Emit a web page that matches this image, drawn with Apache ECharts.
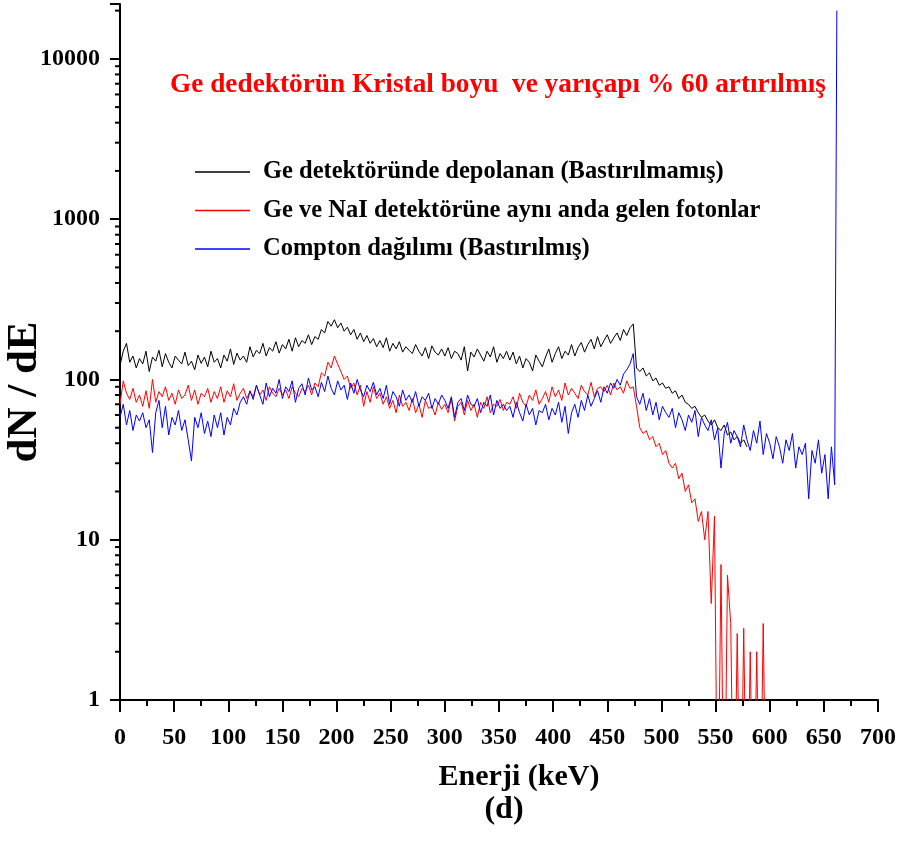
<!DOCTYPE html>
<html>
<head>
<meta charset="utf-8">
<title>dN/dE spektrum</title>
<script src="https://cdn.jsdelivr.net/npm/echarts@6/dist/echarts.min.js"></script>
<style>
  html, body { margin: 0; padding: 0; background: #fff; }
  #chart { width: 902px; height: 854px; }
</style>
</head>
<body>
<div id="chart"></div>
<script>
// kanal aralığı (keV), her dizi 0 keV'den başlar
const STEP = 3

// Ge detektöründe depolanan (Bastırılmamış) — 0..579 keV
const geDeposited = [
  122, 150, 168, 128, 140, 118, 135, 125, 150, 112,
  138, 130, 152, 120, 145, 128, 118, 140, 132, 125,
  148, 122, 130, 115, 142, 126, 138, 120, 150, 128,
  135, 118, 142, 130, 155, 124, 146, 132, 140, 128,
  160, 138, 152, 145, 168, 140, 158, 150, 172, 146,
  165, 155, 178, 150, 182, 160, 175, 168, 190, 165,
  185, 178, 205, 195, 230, 215, 236, 210, 225, 200,
  212, 190, 205, 178, 195, 172, 188, 168, 180, 160,
  175, 158, 182, 150, 168, 155, 172, 148, 160, 152,
  145, 165, 150, 140, 158, 135, 162, 148, 142, 155,
  140, 158, 135, 150, 145, 132, 160, 113, 148, 138,
  155, 142, 130, 150, 138, 160, 128, 145, 135, 150,
  132, 148, 125, 140, 118, 135, 128, 113, 142, 130,
  120, 138, 155, 128, 145, 160, 135, 150, 142, 165,
  140, 158, 170, 148, 165, 178, 155, 185, 160, 175,
  190, 168, 182, 195, 175, 205, 188, 210, 222, 118,
  112, 118, 105, 110, 98, 102, 92, 95, 88, 90,
  82, 85, 76, 80, 72, 70, 66, 68, 62, 58,
  60, 55, 52, 56, 50, 48, 52, 45, 47, 42,
  44, 40, 42, 38
]

// Ge ve NaI detektörüne aynı anda gelen fotonlar — 0..597 keV
const coincidence = [
  70, 98, 82, 75, 88, 72, 80, 68, 85, 66,
  100, 72, 84, 78, 90, 74, 82, 70, 86, 76,
  80, 92, 74, 86, 70, 82, 78, 88, 72, 84,
  76, 90, 72, 85, 78, 94, 74, 82, 88, 76,
  84, 78, 92, 80, 86, 74, 90, 82, 78, 88,
  80, 86, 76, 90, 82, 78, 88, 84, 92, 80,
  95, 90, 110, 105, 128, 118, 140, 125, 112, 100,
  105, 88, 95, 80, 92, 68, 84, 72, 90, 76,
  82, 70, 78, 66, 74, 62, 80, 68, 72, 64,
  76, 62, 70, 58, 74, 66, 68, 60, 72, 65,
  70, 62, 76, 55, 68, 72, 60, 74, 64, 70,
  58, 72, 66, 78, 62, 70, 68, 75, 64, 72,
  70, 78, 66, 82, 72, 68, 80, 74, 86, 70,
  76, 84, 72, 90, 78, 86, 74, 95, 80, 88,
  82, 76, 92, 84, 80, 96, 78, 88, 90, 84,
  92, 80, 95, 86, 90, 82, 98, 88, 90, 68,
  50, 46, 48, 42, 44, 38, 40, 34, 36, 30,
  28, 30, 24, 26, 20, 22, 17, 18, 13, 15,
  10, 15, 4, 14, 0, 7, 0, 6, 3, 0,
  2.6, 0, 2.8, 0, 2, 0, 2, 0, 3, 0
]

// Compton dağılımı (Bastırılmış) — 0..660 keV
const suppressed = [
  58, 70, 52, 64, 48, 60, 55, 62, 50, 56,
  35, 62, 74, 50, 68, 45, 58, 52, 64, 48,
  56, 42, 31, 58, 50, 62, 46, 55, 44, 60,
  50, 62, 45, 58, 52, 66, 60, 72, 78, 70,
  85, 75, 92, 80, 70, 95, 78, 88, 82, 100,
  76, 90, 84, 98, 72, 88, 94, 80, 102, 86,
  90, 78, 96, 84, 105, 88, 80, 98, 86, 92,
  75, 95, 82, 100, 86, 78, 92, 84, 96, 80,
  88, 76, 92, 70, 84, 78, 68, 86, 74, 80,
  72, 84, 68, 78, 74, 82, 66, 76, 70, 80,
  74, 66, 78, 58, 72, 76, 64, 80, 70, 68,
  76, 62, 72, 68, 80, 60, 74, 66, 70, 64,
  68, 58, 72, 62, 55, 70, 60, 66, 52, 64,
  62, 70, 56, 66, 60, 72, 54, 68, 46, 62,
  70, 58, 74, 64, 80, 68, 76, 85, 72, 90,
  82, 95, 88, 100, 92, 108, 115, 125, 145, 78,
  70, 82, 64, 76, 60, 72, 56, 68, 62, 58,
  66, 50, 62, 56, 48, 60, 54, 64, 44, 58,
  52, 48, 56, 42, 50, 28, 46, 54, 40, 48,
  44, 38, 52, 42, 36, 48, 40, 55, 34, 46,
  40, 32, 44, 38, 30, 42, 36, 46, 28, 38,
  34, 40, 18, 36, 30, 42, 26, 34, 18, 38,
  22
]

// 662 keV fotopik
const peakEnergy = 662
const peakCounts = 20000

// log eksenin ara çentikleri (2..9 x 10^n)
const minorTickValues = [
  2, 3, 4, 5, 6, 7, 8, 9,
  20, 30, 40, 50, 60, 70, 80, 90,
  200, 300, 400, 500, 600, 700, 800, 900,
  2000, 3000, 4000, 5000, 6000, 7000, 8000, 9000,
  20000
]

const seriesNames = [
  'Ge detektöründe depolanan (Bastırılmamış)',
  'Ge ve NaI detektörüne aynı anda gelen fotonlar',
  'Compton dağılımı (Bastırılmış)'
]

const FONT = 'Liberation Serif'

// log eksende 0 çizilemez, eksenin altına (kırpılan bölgeye) it
function toPairs (arr) {
  return arr.map((v, i) => [i * STEP, v > 0 ? v : 0.1])
}

const blueData = toPairs(suppressed)
blueData.push([peakEnergy, peakCounts])

const chart = echarts.init(document.getElementById('chart'), null, { renderer: 'canvas' })

const option = {
  animation: false,
  backgroundColor: '#ffffff',
  title: [
    {
      text: 'Ge dedektörün Kristal boyu  ve yarıçapı % 60 artırılmış',
      left: 165,
      top: 66,
      textStyle: { color: '#ff0000', fontFamily: FONT, fontWeight: 'bold', fontSize: 27.3 }
    },
    {
      text: '(d)',
      left: 499,
      textAlign: 'center',
      top: 789,
      textStyle: { color: '#000', fontFamily: FONT, fontWeight: 'bold', fontSize: 32 }
    }
  ],
  // y ekseni başlığı (dikey)
  graphic: [
    {
      type: 'text',
      x: 25,
      y: 392,
      rotation: Math.PI / 2,
      style: {
        text: 'dN / dE',
        fill: '#000',
        font: 'bold 43px "Liberation Serif"',
        align: 'center',
        verticalAlign: 'middle'
      }
    }
  ],
  legend: {
    orient: 'vertical',
    left: 190,
    top: 154,
    itemWidth: 55,
    itemHeight: 1.5,
    itemGap: 12.5,
    icon: 'rect',
    data: seriesNames,
    textStyle: { color: '#000', fontFamily: FONT, fontWeight: 'bold', fontSize: 24.5, lineHeight: 26, padding: [0, 0, 0, 8] }
  },
  grid: { left: 120, right: 24, top: 4, bottom: 154, containLabel: false, outerBoundsMode: 'none' },
  xAxis: {
    type: 'value',
    min: 0,
    max: 700,
    interval: 50,
    name: 'Enerji (keV)',
    nameLocation: 'middle',
    nameGap: 62,
    nameTextStyle: { color: '#000', fontFamily: FONT, fontWeight: 'bold', fontSize: 30, padding: [0, 0, 0, 40] },
    axisLine: { show: true, onZero: false, lineStyle: { color: '#000', width: 2 } },
    axisTick: { show: true, length: 12, lineStyle: { color: '#000', width: 2 } },
    minorTick: { show: true, splitNumber: 2, length: 6, lineStyle: { color: '#000', width: 2 } },
    axisLabel: { color: '#000', fontFamily: FONT, fontWeight: 'bold', fontSize: 24, margin: 26 },
    splitLine: { show: false }
  },
  yAxis: {
    type: 'log',
    logBase: 10,
    min: 1,
    max: 22000,
    axisLine: { show: true, lineStyle: { color: '#000', width: 2 } },
    axisTick: { show: true, length: 10, lineStyle: { color: '#000', width: 2 } },
    minorTick: { show: false },
    axisLabel: {
      color: '#000',
      fontFamily: FONT,
      fontWeight: 'bold',
      fontSize: 24,
      margin: 20,
      formatter: v => {
        const l = Math.log10(v)
        return Math.abs(l - Math.round(l)) < 1e-6 ? String(Math.round(v)) : ''
      }
    },
    splitLine: { show: false }
  },
  series: [
    {
      name: seriesNames[0],
      type: 'line',
      data: toPairs(geDeposited),
      showSymbol: false,
      clip: true,
      color: '#000000',
      lineStyle: { width: 1, color: '#000000' }
    },
    {
      name: seriesNames[1],
      type: 'line',
      data: toPairs(coincidence),
      showSymbol: false,
      clip: true,
      color: '#ff0000',
      lineStyle: { width: 1, color: '#ff0000' }
    },
    {
      name: seriesNames[2],
      type: 'line',
      data: blueData,
      showSymbol: false,
      clip: true,
      color: '#0000ff',
      lineStyle: { width: 1, color: '#0000ff' }
    },
    {
      // y ekseni ara çentikleri: eksen ölçeğinden konumlanır
      name: 'minorTicks',
      type: 'custom',
      silent: true,
      clip: false,
      data: minorTickValues.map(v => [0, v]),
      renderItem: (params, api) => {
        const p = api.coord([0, api.value(1)])
        return {
          type: 'line',
          shape: { x1: p[0] - 5, y1: p[1], x2: p[0], y2: p[1] },
          style: { stroke: '#000', lineWidth: 2 }
        }
      }
    }
  ]
}

chart.setOption(option)
</script>
</body>
</html>
